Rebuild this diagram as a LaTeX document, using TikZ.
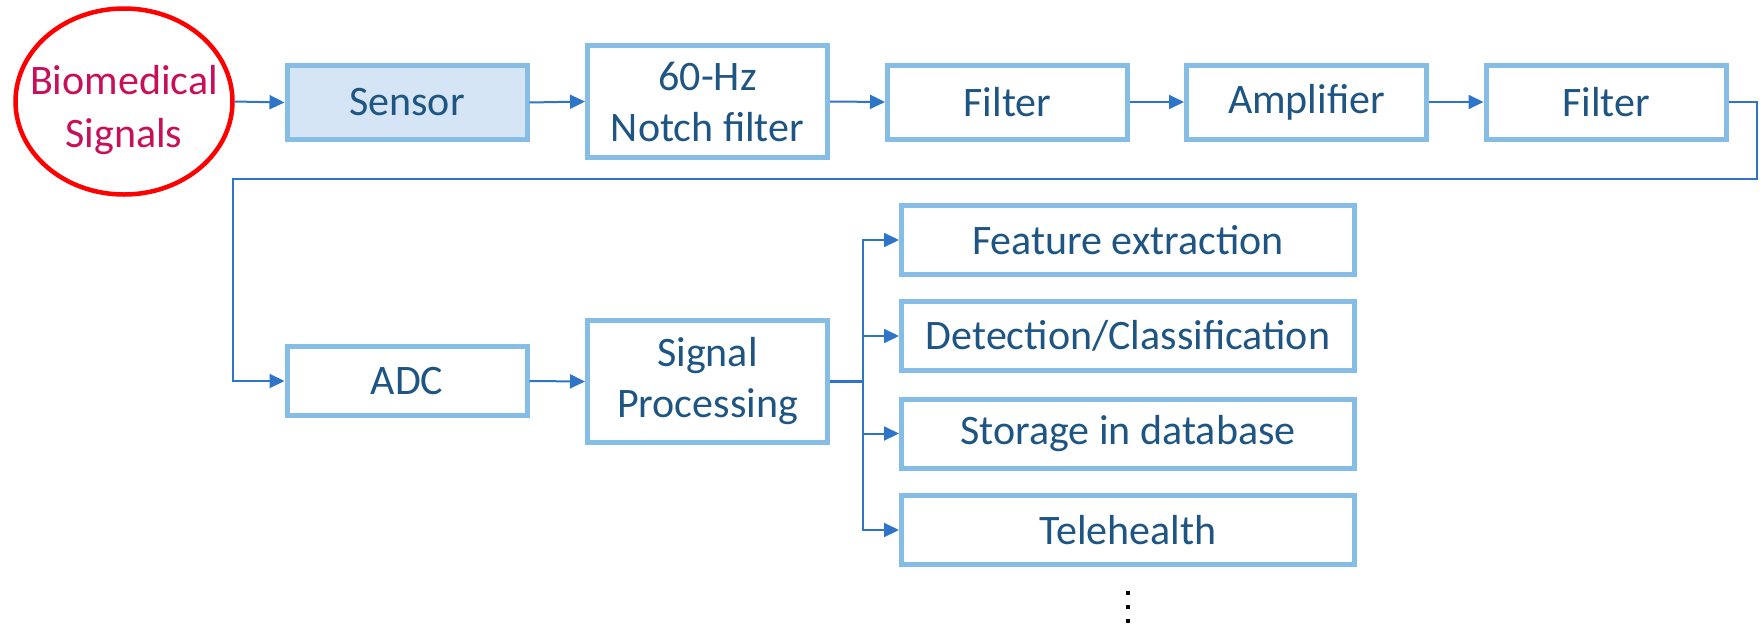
\documentclass[tikz,border=0pt]{standalone}
\usepackage{fontspec}
\setmainfont{Carlito}
\usetikzlibrary{arrows.meta,shapes.geometric}
\definecolor{boxline}{HTML}{85BDE5}
\definecolor{boxfill}{HTML}{D5E5F5}
\definecolor{txt}{HTML}{1F5582}
\definecolor{arr}{HTML}{2E75C8}
\definecolor{biotxt}{HTML}{C8105A}
\begin{document}
\begin{tikzpicture}[x=1pt,y=-1pt,
  blk/.style={draw=boxline,line width=5pt,fill=white,text=txt,
    font=\fontsize{42}{51}\selectfont,align=center,
    minimum width=240pt,minimum height=74pt,inner sep=0pt},
  outbox/.style={blk,minimum width=453pt,minimum height=69pt},
  conn/.style={draw=arr,line width=2pt,-{Triangle[length=15pt,width=14pt]}},
  wire/.style={draw=arr,line width=2pt}]
\useasboundingbox (0,0) rectangle (1763,625);

\node[ellipse,draw=red,line width=4.5pt,inner sep=0pt,
  minimum width=217pt,minimum height=186pt] (bio) at (124,101.5) {};
\node[text=biotxt,align=center,font=\fontsize{42}{53}\selectfont,
  inner sep=0pt] (biolbl) at ([yshift=-9pt]bio.center) {Biomedical\\Signals};

\node[blk,fill=boxfill] (sensor) at (407,102.5) {Sensor};
\node[blk,minimum height=112pt] (notch) at (707.5,101.5) {60-Hz\\Notch filter};
\node[blk] (filt1) at (1007.5,102) {Filter};
\node[blk] (amp) at (1306.5,102) {Amplifier};
\node[blk] (filt2) at (1606,102) {Filter};

\node[blk,minimum height=69pt] (adc) at (407,381) {ADC};
\node[blk,minimum height=122pt] (sp) at (707.5,381.5) {Signal\\Processing};

\node[outbox] (feat) at (1128,240) {Feature extraction};
\node[outbox] (det) at (1128,336) {Detection/Classification};
\node[outbox] (stor) at (1128,433.5) {Storage in database};
\node[outbox] (tele) at (1128,530) {Telehealth};

\draw[conn] (bio.east) -- (sensor.west);
\draw[conn] (sensor.east) -- (notch.west);
\draw[conn] (notch.east) -- (filt1.west);
\draw[conn] (filt1.east) -- (amp.west);
\draw[conn] (amp.east) -- (filt2.west);

\coordinate (rA) at (1757,179);
\coordinate (rB) at (233,179);
\draw[conn] (filt2.east) -| (rA) -- (rB) |- (adc.west);
\draw[conn] (adc.east) -- (sp.west);

\coordinate (bus) at (863,381.5);
\draw[wire,line width=3pt] (sp.east) -- (bus);
\draw[conn] (bus) |- (feat.west);
\draw[conn] (bus) |- (det.west);
\draw[conn] (bus) |- (stor.west);
\draw[conn] (bus) |- (tele.west);

\foreach \yy in {593,607,621}
  \fill[black] (1126,\yy-2) rectangle +(4,4);
\end{tikzpicture}
\end{document}
